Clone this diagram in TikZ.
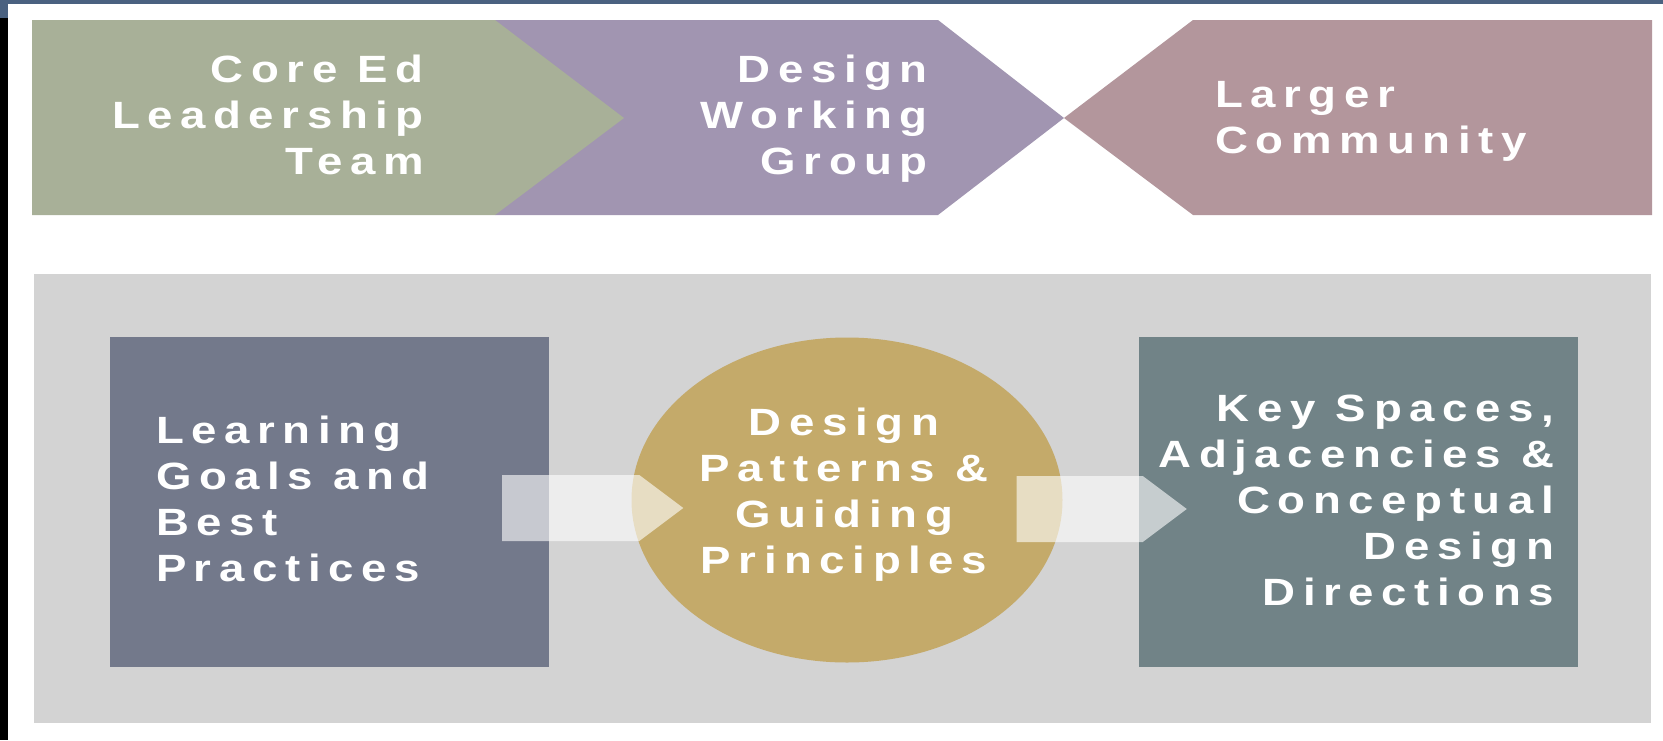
\documentclass[tikz,border=0pt]{standalone}
\usepackage{fontspec}
\usepackage{tikz}
\usetikzlibrary{shapes.geometric,calc,positioning}
\newfontfamily\trackfont[LetterSpace=20,FakeStretch=1.2]{Liberation Sans}
\definecolor{sage}{RGB}{168,176,152}
\definecolor{lilac}{RGB}{161,149,177}
\definecolor{mauve}{RGB}{179,150,156}
\definecolor{panelgray}{RGB}{211,211,211}
\definecolor{slate}{RGB}{115,121,139}
\definecolor{gold}{RGB}{196,170,106}
\definecolor{sea}{RGB}{113,131,135}
\definecolor{framebar}{RGB}{74,97,128}
\newcommand{\hd}{33}
\newcommand{\tip}{44}

\begin{document}
\begin{tikzpicture}[x=1pt,y=-1pt,
  lbl/.style={text=white,inner sep=0pt,font=\trackfont\bfseries\fontsize{38}{46}\selectfont},
  block/.style={inner sep=0pt,minimum width=439pt,minimum height=330pt}]
\useasboundingbox (0,0) rectangle (1663,740);
\fill[white] (0,0) rectangle (1663,740);
\fill[framebar] (0,0) rectangle (1663,4);
\fill[framebar] (0,0) rectangle (8,18);
\fill[black] (0,18) rectangle (8,740);
% top band
\coordinate (m0) at (1064,118);
\fill[mauve] (m0) -- (1193,20) -- (1652,20) -- (1652,215) -- (1193,215) -- cycle;
\fill[lilac] (495,20) -- (938,20) -- (m0) -- (938,215) -- (495,215) -- cycle;
\fill[sage] (32,20) -- (495,20) -- (624,118) -- (495,215) -- (32,215) -- cycle;
\node[lbl,align=right,anchor=east] (core) at (424,115) {Core Ed\\Leadership\\Team};
\node[lbl,align=right,anchor=east] (dwg) at (928,119) {Design\\Working\\Group};
\node[lbl,align=left,anchor=west] (larger) at (1215,121) {Larger\\Community};
% lower panel
\fill[panelgray] (34,274) rectangle (1651,723);
\node[block,fill=slate] (goals) at (329.5,502) {};
\node[ellipse,fill=gold,inner sep=0pt,minimum width=431pt,minimum height=325pt] (patterns) at (847,500) {};
\node[block,fill=sea] (spaces) at (1358.5,502) {};
\coordinate (a1s) at ($(goals.east)+(-47,6)$);
\coordinate (a1e) at ($(patterns.west)+(52,8)$);
\coordinate (a2s) at ($(patterns.east)+(-46,9)$);
\coordinate (a2e) at ($(spaces.west)+(48,7)$);
\fill[white,fill opacity=.6] ($(a1s)+(0,-\hd)$) -- ($(a1e)+(-\tip,-\hd)$) -- (a1e)
  -- ($(a1e)+(-\tip,\hd)$) -- ($(a1s)+(0,\hd)$) -- cycle;
\fill[white,fill opacity=.6] ($(a2s)+(0,-\hd)$) -- ($(a2e)+(-\tip,-\hd)$) -- (a2e)
  -- ($(a2e)+(-\tip,\hd)$) -- ($(a2s)+(0,\hd)$) -- cycle;
\node[lbl,align=left,anchor=west] (goalstxt) at ($(goals.west)+(46,-3)$) {Learning\\Goals and\\Best\\Practices};
\node[lbl,align=center] (pattxt) at ($(patterns.center)+(-3,-5)$) {Design\\Patterns \&\\Guiding\\Principles};
\node[lbl,align=right,anchor=east] (spacetxt) at ($(spaces.east)+(-24,-2)$) {Key Spaces,\\Adjacencies \&\\Conceptual\\Design\\Directions};
\end{tikzpicture}
\end{document}
